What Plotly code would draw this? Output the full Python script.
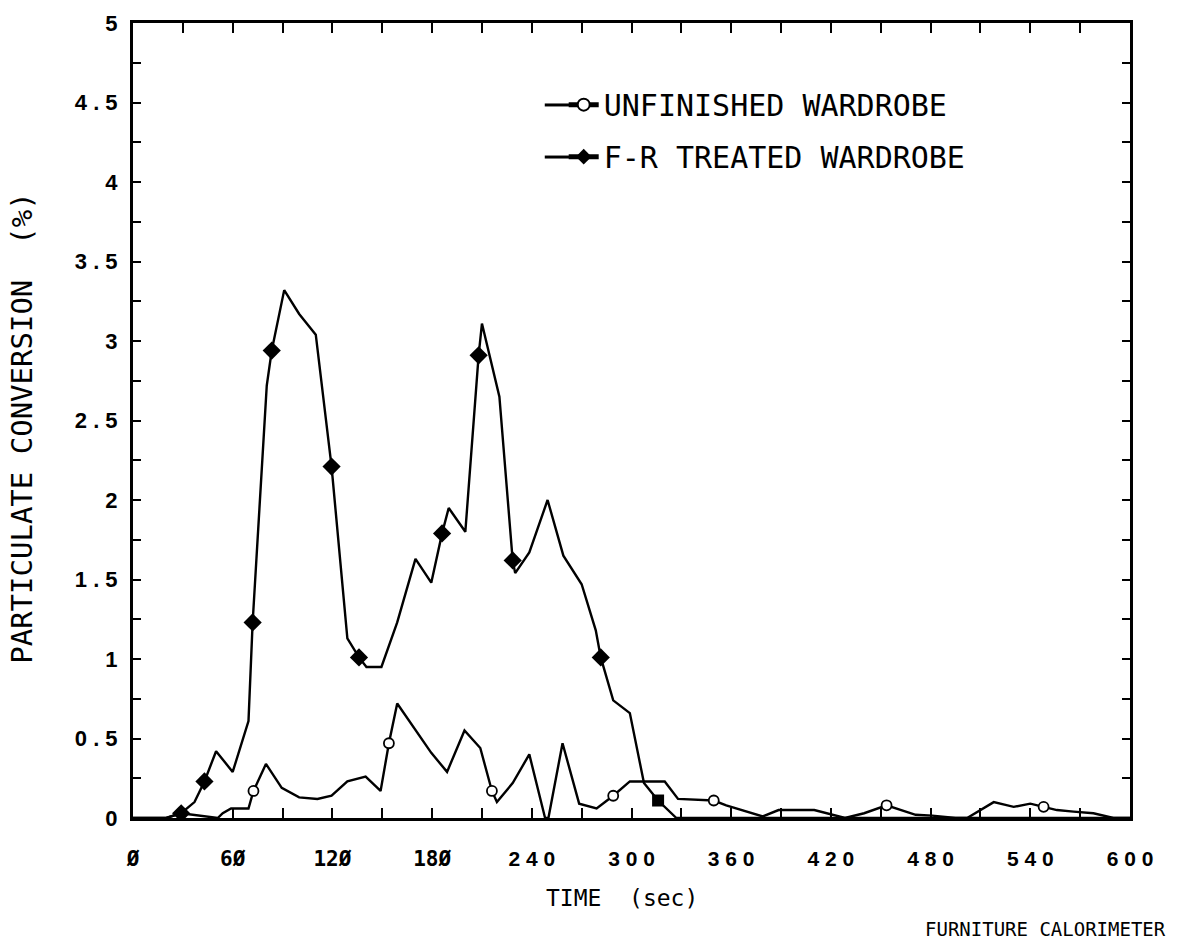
import plotly.graph_objects as go

# ---- data -------------------------------------------------------------
# Unfinished wardrobe: time (s) and particulate conversion (%)
unfinished_t = [0, 20, 29, 51, 54, 59, 69.5, 72.5, 80, 89.5, 100, 111, 119.5,
                129, 140, 149, 154, 159, 179.5, 189, 199.5, 209, 216, 219,
                228.5, 238.5, 248, 250, 258.5, 268.5, 279, 289, 299, 320,
                328, 349.5, 357, 379, 388.5, 410, 428.5, 440, 453.5, 471,
                481, 495, 502, 518, 530, 540, 548, 556, 566, 578, 590, 600]
unfinished_y = [0, 0, 0.03, 0, 0.03, 0.06, 0.06, 0.17, 0.34, 0.19, 0.13, 0.12,
                0.14, 0.23, 0.26, 0.17, 0.47, 0.72, 0.41, 0.29, 0.55, 0.44,
                0.17, 0.10, 0.22, 0.40, 0, 0, 0.47, 0.09, 0.06, 0.14, 0.23,
                0.23, 0.12, 0.11, 0.08, 0.01, 0.05, 0.05, 0.0, 0.03, 0.08,
                0.02, 0.015, 0, 0, 0.10, 0.07, 0.09, 0.07, 0.05, 0.04, 0.03,
                0, 0]
unfinished_marked = [72.5, 154, 216, 289, 349.5, 453.5, 548]

# F-R treated wardrobe
treated_t = [0, 20, 29, 37, 43, 50, 60, 69.5, 72, 80.5, 83.5, 91, 100, 110,
             119.5, 129, 136, 140.5, 149.5, 159, 170, 179.5, 186, 190, 200,
             208, 210, 220.5, 228.5, 230, 238.5, 249.5, 259, 270, 278.5,
             281.5, 289, 299, 307.5, 316, 327, 600]
treated_y = [0, 0, 0.03, 0.10, 0.23, 0.42, 0.29, 0.61, 1.23, 2.72, 2.94, 3.32,
             3.17, 3.04, 2.21, 1.13, 1.01, 0.95, 0.95, 1.23, 1.63, 1.48, 1.79,
             1.95, 1.80, 2.91, 3.11, 2.65, 1.62, 1.54, 1.67, 2.00, 1.65, 1.47,
             1.18, 1.01, 0.74, 0.66, 0.22, 0.11, 0, 0]
treated_marked = [29, 43, 72, 83.5, 119.5, 136, 186, 208, 228.5, 281.5]
treated_square = [316]

# axis ticks
x_ticks = list(range(0, 601, 30))
x_labels = ["Ø", "6Ø", "12Ø", "18Ø", "2 4 0", "3 0 0", "3 6 0", "4 2 0",
            "4 8 0", "5 4 0", "6 0 0"]
y_ticks = [i * 0.25 for i in range(21)]
y_labels = ["0", "0 . 5", "1", "1 . 5", "2", "2 . 5", "3", "3 . 5", "4",
            "4 . 5", "5"]

MONO = "DejaVu Sans Mono"
BOLD = "Liberation Sans"
LINE_W = 2.4

fig = go.Figure()

fig.add_trace(go.Scatter(
    x=unfinished_t, y=unfinished_y, name="UNFINISHED WARDROBE",
    mode="lines+markers",
    line=dict(color="black", width=LINE_W),
    marker=dict(symbol="circle", color="white", opacity=1,
                size=[10 if t in unfinished_marked else 0
                      for t in unfinished_t],
                line=dict(color="black",
                          width=[1.8 if t in unfinished_marked else 0
                                 for t in unfinished_t])),
    legendgroup="a",
))

treated_symbols = ["square" if t in treated_square else "diamond"
                   for t in treated_t]
treated_sizes = [12 if t in treated_square else 14 if t in treated_marked else 0
                 for t in treated_t]
fig.add_trace(go.Scatter(
    x=treated_t, y=treated_y, name="F-R TREATED WARDROBE",
    mode="lines+markers",
    line=dict(color="black", width=LINE_W),
    marker=dict(symbol=treated_symbols, color="black", size=treated_sizes,
                opacity=1, line=dict(width=0)),
    legendgroup="b",
))

x_text = []
for v in x_ticks:
    if v % 60 == 0:
        lab = x_labels[v // 60]
        if "Ø" in lab:
            lab = ('<span style="font-family:DejaVu Sans Mono;'
                   'font-weight:bold">%s</span>' % lab)
        x_text.append(lab)
    else:
        x_text.append("")

y_text = [y_labels[i // 2] if i % 2 == 0 else "" for i in range(len(y_ticks))]

fig.update_xaxes(
    range=[0, 600], tickvals=x_ticks, ticktext=x_text,
    ticks="inside", ticklen=10, tickwidth=2, tickcolor="black",
    showline=True, linecolor="black", linewidth=3, mirror="ticks",
    showgrid=False, zeroline=False,
    tickfont=dict(family=BOLD, size=21, color="black", weight="bold"),
    ticklabelstandoff=20,
)
fig.update_yaxes(
    range=[0, 5], tickvals=y_ticks, ticktext=y_text,
    ticks="inside", ticklen=8, tickwidth=2, tickcolor="black",
    showline=True, linecolor="black", linewidth=3, mirror="ticks",
    showgrid=False, zeroline=False,
    tickfont=dict(family=BOLD, size=22, color="black", weight="bold"),
    ticklabelstandoff=8,
)

fig.add_annotation(
    text="PARTICULATE CONVERSION  (%)", textangle=-90,
    xref="paper", yref="paper", x=-0.111, y=0.49,
    xanchor="center", yanchor="middle", showarrow=False,
    font=dict(family=MONO, size=29, color="black"),
)
fig.add_annotation(
    text="TIME  (sec)", xref="paper", yref="paper", x=0.49, y=-0.1,
    xanchor="center", yanchor="middle", showarrow=False,
    font=dict(family=MONO, size=23, color="black"),
)
fig.add_annotation(
    text="FURNITURE CALORIMETER", xref="paper", yref="paper",
    x=1.038, y=-0.14, xanchor="right", yanchor="middle", showarrow=False,
    font=dict(family=MONO, size=19, color="black"),
)

# lead-in strokes in front of the legend samples
for row_y in (0.8969, 0.8314):
    fig.add_shape(type="line", xref="paper", yref="paper",
                  x0=0.413, x1=0.44, y0=row_y, y1=row_y,
                  line=dict(color="black", width=3))

fig.update_layout(
    width=1178, height=944,
    margin=dict(l=133, r=48, t=23, b=126),
    paper_bgcolor="white", plot_bgcolor="white",
    showlegend=True,
    legend=dict(
        x=0.432, y=0.93, xanchor="left", yanchor="top",
        bgcolor="rgba(0,0,0,0)", borderwidth=0,
        font=dict(family=MONO, size=30, color="black"),
        itemsizing="constant", tracegroupgap=10,
    ),
)

fig.write_html("out.html")
